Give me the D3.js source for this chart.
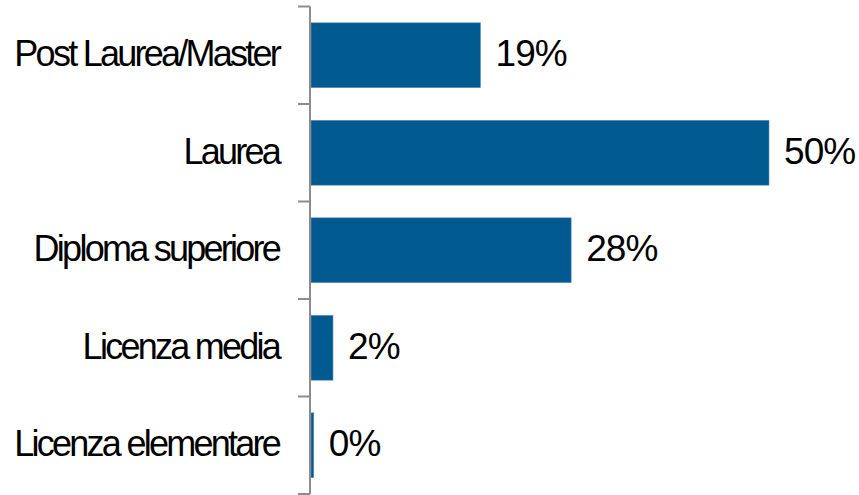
<!DOCTYPE html>
<html>
<head>
<meta charset="utf-8">
<script src="https://cdn.jsdelivr.net/npm/d3@7"></script>
<style>
   body { margin: 0; background: #fff; }
   text { font-family: "Liberation Sans", Arial, sans-serif; fill: #000; }
</style>
</head>
<body>
<svg id="chart" width="859" height="495"></svg>
<script>
const categories = [ 'Post Laurea/Master', 'Laurea', 'Diploma superiore', 'Licenza media', 'Licenza elementare' ];
const values = [ 18.5, 50, 28.4, 2.4, 0.3 ];
const valueLabels = [ '19%', '50%', '28%', '2%', '0%' ];

const svg = d3.select( '#chart' );
const margin = { top: 6.5, left: 311, bottom: 1 };

const x = d3.scaleLinear()
   .domain( [ 0, 50 ] )
   .range( [ margin.left, 769 ] );

const y = d3.scaleBand()
   .domain( categories )
   .range( [ margin.top, 494 ] )
   .paddingInner( 0.335 )
   .paddingOuter( 0.1675 );

const data = categories.map( ( c, i ) => ( { c, v: values[ i ], label: valueLabels[ i ] } ) );

// bars
svg.append( 'g' )
   .selectAll( 'rect' )
   .data( data )
   .join( 'rect' )
   .attr( 'x', x( 0 ) )
   .attr( 'y', d => y( d.c ) )
   .attr( 'width', d => x( d.v ) - x( 0 ) )
   .attr( 'height', y.bandwidth() )
   .attr( 'fill', '#00598f' )
   .attr( 'stroke', '#5b8fbf' )
   .attr( 'stroke-width', 0.6 );

// category axis: boundary ticks between bands
const boundaries = d3.range( categories.length + 1 ).map( i => margin.top + i * y.step() );
const axis = svg.append( 'g' ).attr( 'stroke', '#8c8c8c' ).attr( 'stroke-width', 2 );
axis.append( 'line' )
   .attr( 'x1', margin.left - 1 ).attr( 'x2', margin.left - 1 )
   .attr( 'y1', boundaries[ 0 ] ).attr( 'y2', boundaries[ boundaries.length - 1 ] );
axis.selectAll( 'line.tick' )
   .data( boundaries )
   .join( 'line' )
   .attr( 'class', 'tick' )
   .attr( 'x1', margin.left - 13 ).attr( 'x2', margin.left - 1 )
   .attr( 'y1', d => d ).attr( 'y2', d => d );

// category labels
svg.append( 'g' )
   .selectAll( 'text' )
   .data( data )
   .join( 'text' )
   .attr( 'x', 279 )
   .attr( 'y', d => y( d.c ) + y.bandwidth() / 2 )
   .attr( 'dy', '0.31em' )
   .attr( 'text-anchor', 'end' )
   .style( 'font-size', '36px' )
   .style( 'letter-spacing', '-2.75px' )
   .text( d => d.c );

// value labels
svg.append( 'g' )
   .selectAll( 'text' )
   .data( data )
   .join( 'text' )
   .attr( 'x', d => x( d.v ) + 15 )
   .attr( 'y', d => y( d.c ) + y.bandwidth() / 2 )
   .attr( 'dy', '0.3em' )
   .style( 'font-size', '37px' )
   .style( 'letter-spacing', '-0.9px' )
   .text( d => d.label );
</script>
</body>
</html>
